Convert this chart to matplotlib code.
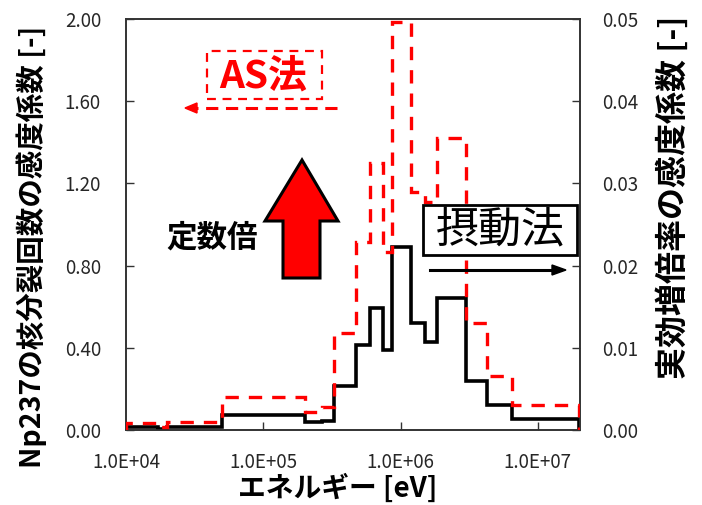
import matplotlib
matplotlib.use("Agg")
import matplotlib.pyplot as plt
from matplotlib.patches import Polygon, Rectangle
from matplotlib.lines import Line2D
from matplotlib.ticker import NullLocator

plt.rcParams['font.family'] = ['Noto Sans CJK JP', 'DejaVu Sans']

# エネルギー群境界 [eV]
edges = [1.0e4, 1.7e4, 2.0e4, 5.0e4, 2.0e5, 2.7e5, 3.3e5, 4.7e5, 6.0e5, 7.5e5,
         8.6e5, 1.2e6, 1.5e6, 1.85e6, 3.0e6, 4.3e6, 6.5e6, 2.0e7]
# 摂動法: Np237の核分裂回数の感度係数 (左軸)
np237_sens = [0.013, 0.004, 0.013, 0.073, 0.040, 0.045, 0.216, 0.414, 0.592, 0.389,
              0.892, 0.519, 0.427, 0.644, 0.237, 0.122, 0.055]
# AS法: 実効増倍率の感度係数 (右軸)
keff_sens = [0.0009, 0.0004, 0.0010, 0.0040, 0.0022, 0.0028, 0.0118, 0.0229, 0.0325, 0.0217,
             0.0496, 0.0289, 0.0277, 0.0355, 0.0130, 0.0066, 0.0030]

xticks = [1e4, 1e5, 1e6, 1e7]
xticklabels = ['1.0E+04', '1.0E+05', '1.0E+06', '1.0E+07']
left_ticks = [0.0, 0.4, 0.8, 1.2, 1.6, 2.0]
right_ticks = [0.00, 0.01, 0.02, 0.03, 0.04, 0.05]

W, H = 702, 505


def fp(x, y):
    # 画素位置 -> figure座標
    return (x / W, 1 - y / H)


fig = plt.figure(figsize=(W / 100, H / 100), dpi=100)
ax = fig.add_axes([126 / W, 1 - 430 / H, (580 - 126) / W, (430 - 19) / H])
ax2 = ax.twinx()

ax.stairs(np237_sens, edges, color='black', lw=2.6, zorder=3)
ax2.stairs(keff_sens, edges, color='red', lw=2.4, linestyle=(0, (4, 3)), zorder=3)

ax.set_xscale('log')
ax.set_xlim(1e4, 2.03e7)
ax.set_ylim(0, 2.0)
ax2.set_ylim(0, 0.05)
ax.set_xticks(xticks, xticklabels)
ax.xaxis.set_minor_locator(NullLocator())
ax.set_yticks(left_ticks, ['%.2f' % v for v in left_ticks])
ax2.set_yticks(right_ticks, ['%.2f' % v for v in right_ticks])

for a in (ax, ax2):
    for s in a.spines.values():
        s.set_linewidth(1.2)
        s.set_color('#333333')
    a.tick_params(direction='in', length=6, width=1, colors='#333333',
                  labelcolor='#262626', labelsize=13.5)
ax.tick_params(axis='x', pad=16)
ax.tick_params(axis='y', pad=18)
ax2.tick_params(axis='y', pad=16)

fig.text(*fp(32, 247), 'Np237の核分裂回数の感度係数 [-]', rotation=90,
         ha='center', va='center', fontsize=20.5, fontweight='bold')
fig.text(*fp(673, 197), '実効増倍率の感度係数 [-]', rotation=90,
         ha='center', va='center', fontsize=23, fontweight='bold')
fig.text(*fp(338, 488), 'エネルギー [eV]', ha='center', va='center',
         fontsize=20, fontweight='bold')

# AS法 の注記
fig.add_artist(Rectangle(fp(207, 99), (322 - 207) / W, (99 - 51) / H,
                         transform=fig.transFigure, fill=False, edgecolor='red',
                         lw=1.6, linestyle=(0, (4, 3))))
fig.text(*fp(263, 76), 'AS法', color='red', ha='center', va='center',
         fontsize=28, fontweight='bold')
x0, y0 = fp(337, 108)
x1, _ = fp(196, 108)
fig.add_artist(Line2D([x0, x1], [y0, y0], transform=fig.transFigure,
                      color='red', lw=2.2, linestyle=(0, (4, 2.5))))
fig.add_artist(Polygon([fp(185, 108), fp(197, 103), fp(197, 113)], closed=True,
                       transform=fig.transFigure, color='red'))

# 定数倍 の矢印
fig.text(*fp(212, 237), '定数倍', ha='center', va='center', fontsize=22,
         fontweight='bold')
fig.add_artist(Polygon([fp(302, 160), fp(338, 221), fp(320, 221), fp(320, 278),
                        fp(283, 278), fp(283, 221), fp(265, 221)], closed=True,
                       transform=fig.transFigure, facecolor='red',
                       edgecolor='black', lw=2.2, joinstyle='miter'))

# 摂動法 の注記
fig.add_artist(Rectangle(fp(423, 255), (577 - 423) / W, (255 - 205) / H,
                         transform=fig.transFigure, facecolor='white',
                         edgecolor='black', lw=2.0))
fig.text(*fp(500, 231), '摂動法', ha='center', va='center', fontsize=31)
x0, y0 = fp(430, 270)
x1, _ = fp(553, 270)
fig.add_artist(Line2D([x0, x1], [y0, y0], transform=fig.transFigure,
                      color='black', lw=2.2))
fig.add_artist(Polygon([fp(566, 270), fp(552, 265), fp(552, 275)], closed=True,
                       transform=fig.transFigure, color='black'))

fig.savefig('out.png', dpi=100)
